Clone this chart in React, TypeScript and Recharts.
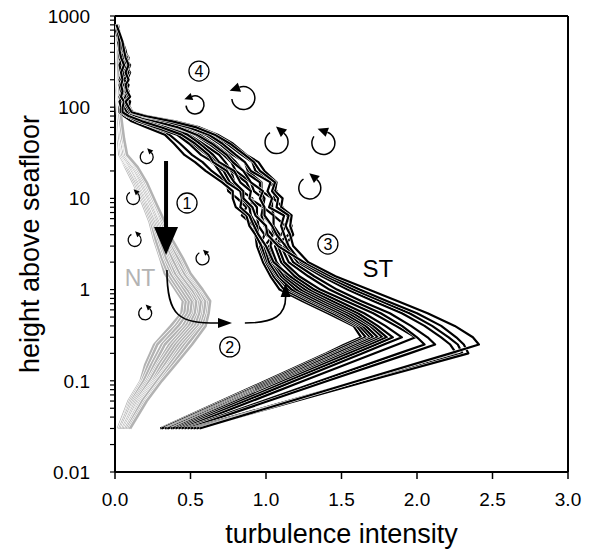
import React from "react";
import {
  ScatterChart,
  Scatter,
  XAxis,
  YAxis,
  ReferenceLine,
  ReferenceDot,
} from "recharts";

// heights (m) at which the ST profiles are sampled
const ST_H = [
  0.03, 0.1, 0.2, 0.25, 0.3, 0.4, 0.55, 0.75, 1, 1.4, 2, 3, 4, 5, 6.5, 8, 10, 12, 15, 20, 25,
  30, 40, 50, 60, 70, 80, 88, 100, 115, 130, 150, 175, 200, 240, 290, 350, 420, 520, 650, 800,
];

// ST (black) turbulence-intensity profiles
const st01 = [0.30, 1.00, 1.40, 1.52, 1.63, 1.58, 1.41, 1.24, 1.09, 1.03, 0.98, 0.94, 0.93, 0.92, 0.84, 0.87, 0.81, 0.75, 0.74, 0.64, 0.58, 0.51, 0.43, 0.36, 0.25, 0.13, 0.07, 0.04, 0.05, 0.04, 0.06, 0.05, 0.07, 0.05, 0.06, 0.08, 0.05, 0.04, 0.03, 0.02, 0.01];
const st02 = [0.31, 1.02, 1.42, 1.55, 1.66, 1.60, 1.44, 1.27, 1.12, 1.05, 1.00, 0.96, 0.99, 0.95, 0.94, 0.90, 0.91, 0.84, 0.79, 0.77, 0.68, 0.63, 0.55, 0.46, 0.33, 0.20, 0.10, 0.06, 0.07, 0.06, 0.08, 0.06, 0.05, 0.07, 0.09, 0.06, 0.07, 0.05, 0.04, 0.02, 0.01];
const st03 = [0.33, 1.04, 1.45, 1.58, 1.69, 1.62, 1.47, 1.30, 1.15, 1.07, 1.01, 0.97, 0.93, 0.89, 0.87, 0.80, 0.78, 0.78, 0.71, 0.60, 0.53, 0.46, 0.39, 0.33, 0.21, 0.11, 0.06, 0.03, 0.03, 0.04, 0.03, 0.05, 0.04, 0.03, 0.05, 0.04, 0.03, 0.03, 0.02, 0.01, 0.0];
const st04 = [0.34, 1.06, 1.47, 1.60, 1.71, 1.64, 1.49, 1.32, 1.17, 1.08, 1.02, 0.99, 1.05, 1.04, 0.98, 0.98, 0.98, 0.92, 0.90, 0.80, 0.77, 0.72, 0.62, 0.53, 0.40, 0.26, 0.13, 0.08, 0.08, 0.07, 0.09, 0.07, 0.08, 0.06, 0.07, 0.09, 0.08, 0.06, 0.05, 0.03, 0.01];
const st05 = [0.35, 1.08, 1.50, 1.63, 1.74, 1.66, 1.52, 1.35, 1.20, 1.10, 1.04, 1.00, 0.95, 0.94, 0.90, 0.89, 0.84, 0.84, 0.76, 0.72, 0.64, 0.61, 0.51, 0.43, 0.29, 0.16, 0.08, 0.05, 0.04, 0.06, 0.05, 0.04, 0.06, 0.08, 0.05, 0.06, 0.04, 0.05, 0.03, 0.02, 0.01];
const st06 = [0.37, 1.10, 1.52, 1.66, 1.77, 1.69, 1.55, 1.38, 1.23, 1.12, 1.05, 1.02, 1.10, 1.13, 1.05, 1.04, 1.04, 0.97, 0.97, 0.88, 0.86, 0.78, 0.69, 0.60, 0.47, 0.32, 0.17, 0.10, 0.09, 0.08, 0.06, 0.08, 0.09, 0.07, 0.08, 0.07, 0.06, 0.07, 0.05, 0.03, 0.02];
const st07 = [0.38, 1.12, 1.55, 1.69, 1.80, 1.71, 1.58, 1.41, 1.26, 1.14, 1.07, 1.03, 1.04, 0.99, 0.97, 0.98, 0.89, 0.90, 0.87, 0.77, 0.73, 0.69, 0.58, 0.49, 0.36, 0.23, 0.12, 0.07, 0.06, 0.05, 0.07, 0.09, 0.06, 0.05, 0.07, 0.05, 0.07, 0.04, 0.04, 0.02, 0.01];
const st08 = [0.40, 1.15, 1.59, 1.73, 1.84, 1.74, 1.61, 1.44, 1.29, 1.16, 1.05, 1.00, 0.95, 0.92, 0.89, 0.83, 0.84, 0.83, 0.74, 0.69, 0.65, 0.57, 0.49, 0.41, 0.27, 0.15, 0.08, 0.04, 0.04, 0.03, 0.05, 0.04, 0.03, 0.06, 0.04, 0.03, 0.05, 0.03, 0.02, 0.02, 0.0];
const st09 = [0.42, 1.19, 1.64, 1.78, 1.90, 1.79, 1.65, 1.48, 1.32, 1.19, 1.10, 1.06, 1.15, 1.17, 1.14, 1.11, 1.05, 1.07, 1.03, 0.93, 0.91, 0.84, 0.74, 0.65, 0.52, 0.37, 0.20, 0.11, 0.10, 0.08, 0.07, 0.06, 0.08, 0.09, 0.06, 0.08, 0.09, 0.06, 0.04, 0.03, 0.01];
const st10 = [0.44, 1.25, 1.72, 1.87, 1.99, 1.86, 1.71, 1.53, 1.36, 1.22, 1.12, 1.08, 1.09, 1.05, 1.05, 0.98, 0.99, 0.96, 0.96, 0.85, 0.80, 0.75, 0.65, 0.56, 0.44, 0.29, 0.15, 0.09, 0.07, 0.09, 0.08, 0.07, 0.05, 0.06, 0.08, 0.10, 0.06, 0.05, 0.05, 0.02, 0.01];
const st11 = [0.46, 1.36, 1.88, 2.05, 2.00, 1.90, 1.76, 1.58, 1.42, 1.28, 1.15, 1.10, 1.00, 1.00, 0.94, 0.94, 0.89, 0.90, 0.83, 0.79, 0.69, 0.65, 0.56, 0.48, 0.34, 0.21, 0.11, 0.06, 0.05, 0.07, 0.04, 0.06, 0.07, 0.04, 0.06, 0.05, 0.06, 0.04, 0.03, 0.01, 0.0];
const st12 = [0.48, 1.41, 1.95, 2.12, 2.07, 1.96, 1.82, 1.63, 1.47, 1.32, 1.18, 1.12, 1.18, 1.16, 1.17, 1.10, 1.11, 1.06, 1.07, 0.99, 0.95, 0.87, 0.78, 0.68, 0.56, 0.40, 0.21, 0.12, 0.09, 0.10, 0.08, 0.09, 0.07, 0.08, 0.10, 0.07, 0.08, 0.07, 0.05, 0.03, 0.02];
const st13 = [0.50, 1.62, 2.26, 2.22, 2.16, 2.05, 1.90, 1.71, 1.54, 1.37, 1.21, 1.13, 1.07, 1.04, 0.99, 0.99, 0.96, 0.98, 0.90, 0.85, 0.78, 0.74, 0.64, 0.54, 0.42, 0.27, 0.14, 0.08, 0.06, 0.05, 0.07, 0.08, 0.06, 0.07, 0.05, 0.07, 0.05, 0.06, 0.04, 0.02, 0.01];
const st14 = [0.52, 1.65, 2.30, 2.27, 2.21, 2.10, 1.95, 1.76, 1.58, 1.40, 1.23, 1.15, 1.12, 1.10, 1.12, 1.02, 1.04, 1.01, 1.03, 0.90, 0.86, 0.80, 0.71, 0.62, 0.49, 0.34, 0.18, 0.10, 0.08, 0.06, 0.09, 0.07, 0.09, 0.06, 0.09, 0.06, 0.08, 0.05, 0.04, 0.03, 0.01];
const st15 = [0.54, 1.68, 2.34, 2.31, 2.26, 2.16, 2.00, 1.80, 1.62, 1.43, 1.25, 1.08, 1.01, 1.00, 0.93, 0.91, 0.85, 0.85, 0.79, 0.74, 0.65, 0.62, 0.53, 0.44, 0.31, 0.18, 0.09, 0.05, 0.05, 0.06, 0.04, 0.05, 0.04, 0.05, 0.04, 0.06, 0.04, 0.03, 0.03, 0.02, 0.01];
const st16 = [0.56, 1.61, 2.22, 2.41, 2.37, 2.25, 2.07, 1.87, 1.68, 1.46, 1.28, 1.18, 1.16, 1.13, 1.15, 1.07, 1.08, 1.04, 1.06, 0.96, 0.92, 0.86, 0.76, 0.66, 0.54, 0.38, 0.20, 0.11, 0.09, 0.07, 0.10, 0.08, 0.07, 0.09, 0.07, 0.09, 0.07, 0.06, 0.05, 0.03, 0.01];
const stLines = [st01, st02, st03, st04, st05, st06, st07, st08, st09, st10, st11, st12, st13, st14, st15, st16];

// heights at which the NT profiles are sampled
const NT_H = [0.03, 0.06, 0.1, 0.15, 0.25, 0.4, 0.55, 0.75, 1, 1.5, 2.2, 3.5, 5.5, 9, 15, 22, 30, 45, 80, 150, 300, 600];

// NT (grey) profiles
const nt01 = [0.02, 0.09, 0.17, 0.20, 0.26, 0.37, 0.44, 0.45, 0.40, 0.33, 0.30, 0.26, 0.23, 0.18, 0.12, 0.07, 0.03, 0.02, 0.02, 0.01, 0.01, 0.0];
const nt02 = [0.03, 0.10, 0.18, 0.22, 0.28, 0.40, 0.46, 0.47, 0.42, 0.35, 0.31, 0.27, 0.24, 0.19, 0.13, 0.08, 0.03, 0.02, 0.02, 0.02, 0.01, 0.01];
const nt03 = [0.03, 0.11, 0.19, 0.24, 0.31, 0.42, 0.48, 0.49, 0.44, 0.37, 0.33, 0.29, 0.25, 0.20, 0.14, 0.09, 0.04, 0.03, 0.02, 0.02, 0.02, 0.01];
const nt04 = [0.04, 0.12, 0.21, 0.26, 0.33, 0.45, 0.50, 0.51, 0.46, 0.39, 0.34, 0.30, 0.26, 0.21, 0.15, 0.10, 0.04, 0.03, 0.03, 0.02, 0.01, 0.01];
const nt05 = [0.05, 0.13, 0.22, 0.28, 0.36, 0.47, 0.52, 0.53, 0.48, 0.40, 0.36, 0.31, 0.27, 0.22, 0.16, 0.10, 0.05, 0.03, 0.02, 0.02, 0.02, 0.01];
const nt06 = [0.05, 0.14, 0.23, 0.29, 0.38, 0.49, 0.53, 0.54, 0.50, 0.42, 0.37, 0.32, 0.28, 0.23, 0.17, 0.11, 0.05, 0.04, 0.03, 0.02, 0.02, 0.01];
const nt07 = [0.06, 0.15, 0.25, 0.31, 0.40, 0.51, 0.55, 0.56, 0.51, 0.43, 0.38, 0.33, 0.29, 0.23, 0.17, 0.12, 0.06, 0.04, 0.03, 0.03, 0.02, 0.01];
const nt08 = [0.07, 0.16, 0.26, 0.33, 0.42, 0.53, 0.56, 0.57, 0.53, 0.45, 0.40, 0.34, 0.30, 0.24, 0.18, 0.12, 0.06, 0.04, 0.03, 0.02, 0.02, 0.01];
const nt09 = [0.07, 0.17, 0.27, 0.35, 0.44, 0.55, 0.58, 0.59, 0.54, 0.46, 0.41, 0.35, 0.31, 0.25, 0.19, 0.13, 0.07, 0.05, 0.03, 0.03, 0.02, 0.01];
const nt10 = [0.08, 0.18, 0.28, 0.36, 0.46, 0.57, 0.59, 0.60, 0.56, 0.48, 0.42, 0.36, 0.31, 0.26, 0.20, 0.14, 0.07, 0.05, 0.04, 0.03, 0.02, 0.02];
const nt11 = [0.09, 0.20, 0.30, 0.38, 0.48, 0.58, 0.61, 0.62, 0.57, 0.49, 0.44, 0.37, 0.32, 0.26, 0.20, 0.14, 0.08, 0.05, 0.03, 0.03, 0.03, 0.01];
const nt12 = [0.10, 0.21, 0.31, 0.40, 0.51, 0.60, 0.62, 0.63, 0.58, 0.50, 0.45, 0.38, 0.33, 0.27, 0.21, 0.15, 0.08, 0.06, 0.04, 0.03, 0.02, 0.02];
const ntLines = [nt01, nt02, nt03, nt04, nt05, nt06, nt07, nt08, nt09, nt10, nt11, nt12];

const xTicks = [0, 0.5, 1, 1.5, 2, 2.5, 3];
const yMajor = [0.01, 0.1, 1, 10, 100, 1000];
const yTicks = yMajor.flatMap((m, i) =>
  i < yMajor.length - 1 ? [1, 2, 3, 4, 5, 6, 7, 8, 9].map((k) => k * m) : [m]
);

// eddy symbols: position (turbulence, height), radius, arrowhead angle
const eddies = [
  { x: 0.53, h: 106, r: 9, head: 250 },
  { x: 0.85, h: 126, r: 11.5, head: 250 },
  { x: 1.07, h: 41.5, r: 11.5, head: 310 },
  { x: 1.38, h: 40.5, r: 11.5, head: 290 },
  { x: 1.29, h: 13, r: 11, head: 310 },
  { x: 0.21, h: 28.4, r: 6.5, head: 315 },
  { x: 0.12, h: 10.1, r: 6.5, head: 315 },
  { x: 0.13, h: 3.5, r: 6.5, head: 315 },
  { x: 0.58, h: 2.2, r: 6.5, head: 315 },
  { x: 0.2, h: 0.55, r: 6.5, head: 315 },
];

const steps = [
  { n: "1", x: 0.477, h: 8.9 },
  { n: "2", x: 0.76, h: 0.235 },
  { n: "3", x: 1.41, h: 3.16 },
  { n: "4", x: 0.556, h: 249 },
];

const FONT = "'Liberation Sans', Arial, Helvetica, sans-serif";
const MARGIN = { top: 16, right: 26, bottom: 0, left: 0 };

const toPoints = (hs: number[], xs: number[]) => xs.map((x, i) => ({ x, h: hs[i] }));
const noDot = () => null;
const fmtY = (v: number) =>
  yMajor.some((m) => Math.abs(v / m - 1) < 1e-6) ? String(v) : "";

function Eddy({ cx, cy, r, head }: any) {
  const a0 = (head * Math.PI) / 180;
  const a1 = a0 + (285 * Math.PI) / 180;
  const px = cx + r * Math.cos(a0);
  const py = cy + r * Math.sin(a0);
  const qx = cx + r * Math.cos(a1);
  const qy = cy + r * Math.sin(a1);
  const tx = Math.sin(a0);
  const ty = -Math.cos(a0);
  const nx = Math.cos(a0);
  const ny = Math.sin(a0);
  const L = r * 0.9;
  const W = r * 0.42;
  const pts = [
    [px + tx * L, py + ty * L],
    [px + nx * W, py + ny * W],
    [px - nx * W, py - ny * W],
  ]
    .map((p) => p.join(","))
    .join(" ");
  return (
    <g>
      <path
        d={`M${px},${py} A${r},${r} 0 1 1 ${qx},${qy}`}
        fill="none"
        stroke="#000"
        strokeWidth={r > 8 ? 1.5 : 1.3}
      />
      <polygon points={pts} fill="#000" />
    </g>
  );
}

function StepMark({ cx, cy, n }: any) {
  return (
    <g>
      <circle cx={cx} cy={cy} r={10} fill="none" stroke="#000" strokeWidth={1.3} />
      <text x={cx} y={cy + 6} textAnchor="middle" fontSize={16} fontFamily={FONT} fill="#000">
        {n}
      </text>
    </g>
  );
}

function DownArrow({ x1, y1, x2, y2 }: any) {
  const hy = y2 - 28;
  return (
    <g>
      <line x1={x1} y1={y1} x2={x2} y2={hy + 1} stroke="#000" strokeWidth={4} />
      <polygon points={`${x2 - 12},${hy} ${x2 + 12},${hy} ${x2},${y2}`} fill="#000" />
    </g>
  );
}

function ElbowRight({ x1, y1, x2, y2 }: any) {
  const bx = x2 - 14;
  return (
    <g>
      <path
        d={`M${x1},${y1} C${x1},${y2 - 5} ${x1 + 13},${y2} ${bx},${y2}`}
        fill="none"
        stroke="#000"
        strokeWidth={1.6}
      />
      <polygon points={`${bx},${y2 - 5} ${bx},${y2 + 5} ${x2},${y2}`} fill="#000" />
    </g>
  );
}

function ElbowUp({ x1, y1, x2, y2 }: any) {
  const by = y2 + 14;
  return (
    <g>
      <path
        d={`M${x1},${y1} C${x1 + 30},${y1} ${x2},${y1 - 8} ${x2},${by}`}
        fill="none"
        stroke="#000"
        strokeWidth={1.6}
      />
      <polygon points={`${x2 - 5},${by} ${x2 + 5},${by} ${x2},${y2}`} fill="#000" />
    </g>
  );
}

// same axes in both layers; the "bare" copy draws nothing but keeps the plot area
function xAxisEl(bare: boolean) {
  return (
    <XAxis
      type="number"
      dataKey="x"
      domain={[0, 3]}
      ticks={xTicks}
      interval={0}
      allowDataOverflow
      tickFormatter={(v: number) => v.toFixed(1)}
      height={79}
      tickSize={7}
      tickMargin={14}
      axisLine={bare ? false : { stroke: "#000", strokeWidth: 2 }}
      tickLine={bare ? false : { stroke: "#000", strokeWidth: 1.5 }}
      tick={bare ? false : { fill: "#000", fontSize: 19, fontFamily: FONT }}
      label={
        bare
          ? undefined
          : {
              value: "turbulence intensity",
              position: "insideBottom",
              offset: 8,
              style: { fontSize: 27, fill: "#000", fontFamily: FONT },
            }
      }
    />
  );
}

function yAxisEl(bare: boolean) {
  return (
    <YAxis
      type="number"
      dataKey="h"
      scale="log"
      domain={[0.01, 1000]}
      ticks={yTicks}
      interval={0}
      allowDataOverflow
      tickFormatter={fmtY}
      width={115}
      tickSize={5}
      tickMargin={20}
      axisLine={bare ? false : { stroke: "#000", strokeWidth: 2 }}
      tickLine={bare ? false : { stroke: "#000", strokeWidth: 1.2 }}
      tick={bare ? false : { fill: "#000", fontSize: 19, fontFamily: FONT }}
      label={
        bare
          ? undefined
          : {
              value: "height above seafloor",
              angle: -90,
              position: "insideLeft",
              offset: 29,
              style: { fontSize: 27, fill: "#000", fontFamily: FONT, textAnchor: "middle" },
            }
      }
    />
  );
}

export default function App() {
  return (
    <div style={{ position: "absolute", left: 0, top: 0, width: 594, height: 551, background: "#fff" }}>
      <ScatterChart width={594} height={551} margin={MARGIN}>
        {xAxisEl(false)}
        {yAxisEl(false)}
        <ReferenceLine y={1000} stroke="#000" strokeWidth={2} />
        <ReferenceLine x={3} stroke="#000" strokeWidth={2} />

        {ntLines.flatMap((xs, i) => [
          <Scatter
            key={`ntw${i}`}
            data={toPoints(NT_H, xs)}
            line={{ stroke: "#fff", strokeWidth: 4.0, strokeLinejoin: "round" }}
            lineType="joint"
            shape={noDot}
            isAnimationActive={false}
          />,
          <Scatter
            key={`nt${i}`}
            data={toPoints(NT_H, xs)}
            line={{ stroke: "#b3b3b3", strokeWidth: 2.6, strokeLinejoin: "round" }}
            lineType="joint"
            shape={noDot}
            isAnimationActive={false}
          />,
        ])}

        {stLines.flatMap((xs, i) => [
          <Scatter
            key={`stw${i}`}
            data={toPoints(ST_H, xs)}
            line={{ stroke: "#fff", strokeWidth: 3.3, strokeLinejoin: "round" }}
            lineType="joint"
            shape={noDot}
            isAnimationActive={false}
          />,
          <Scatter
            key={`st${i}`}
            data={toPoints(ST_H, xs)}
            line={{ stroke: "#000", strokeWidth: 2.2, strokeLinejoin: "round" }}
            lineType="joint"
            shape={noDot}
            isAnimationActive={false}
          />,
        ])}
      </ScatterChart>

      {/* annotation layer on top, same plot area and scales */}
      <div style={{ position: "absolute", left: 0, top: 0 }}>
        <ScatterChart width={594} height={551} margin={MARGIN}>
          {xAxisEl(true)}
          {yAxisEl(true)}
          {eddies.map((e, i) => (
            <ReferenceDot
              key={`ed${i}`}
              x={e.x}
              y={e.h}
              r={0}
              ifOverflow="visible"
              shape={(p: any) => <Eddy cx={p.cx} cy={p.cy} r={e.r} head={e.head} />}
            />
          ))}
          {steps.map((s) => (
            <ReferenceDot
              key={`step${s.n}`}
              x={s.x}
              y={s.h}
              r={0}
              ifOverflow="visible"
              shape={(p: any) => <StepMark cx={p.cx} cy={p.cy} n={s.n} />}
            />
          ))}
          <ReferenceLine
            segment={[{ x: 0.338, y: 25.7 }, { x: 0.338, y: 2.39 }]}
            ifOverflow="visible"
            shape={(p: any) => <DownArrow {...p} />}
          />
          <ReferenceLine
            segment={[{ x: 0.344, y: 1.64 }, { x: 0.775, y: 0.43 }]}
            ifOverflow="visible"
            shape={(p: any) => <ElbowRight {...p} />}
          />
          <ReferenceLine
            segment={[{ x: 0.86, y: 0.43 }, { x: 1.13, y: 1.18 }]}
            ifOverflow="visible"
            shape={(p: any) => <ElbowUp {...p} />}
          />
          <ReferenceDot
            x={0.166}
            y={1.34}
            r={0}
            ifOverflow="visible"
            shape={(p: any) => (
              <text x={p.cx} y={p.cy + 8} textAnchor="middle" fontSize={23} fontFamily={FONT} fill="#b3b3b3">
                NT
              </text>
            )}
          />
          <ReferenceDot
            x={1.74}
            y={1.73}
            r={0}
            ifOverflow="visible"
            shape={(p: any) => (
              <text x={p.cx} y={p.cy + 9} textAnchor="middle" fontSize={24} fontFamily={FONT} fill="#000">
                ST
              </text>
            )}
          />
        </ScatterChart>
      </div>
    </div>
  );
}
